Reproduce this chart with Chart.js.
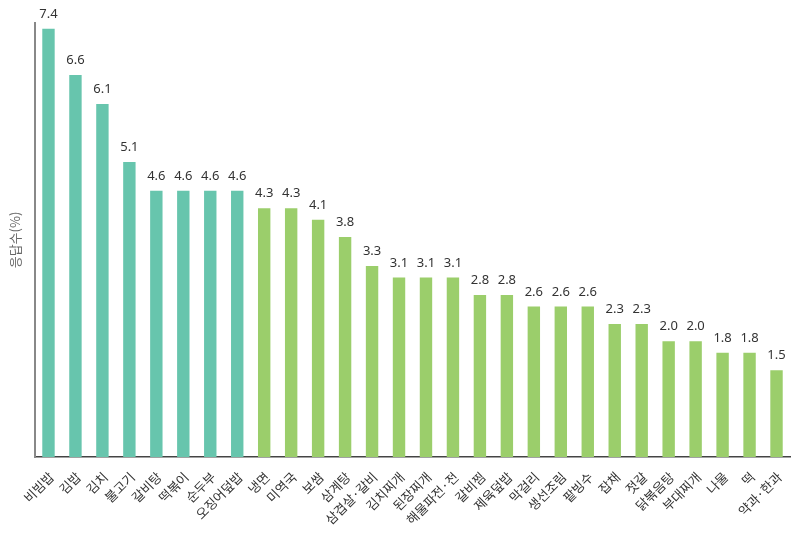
<!DOCTYPE html>
<html><head><meta charset="utf-8">
<script src="https://cdn.jsdelivr.net/npm/chart.js@4"></script>
<style>html,body{margin:0;padding:0;background:#fff}#wrap{width:800px;height:534px}</style>
</head><body><div id="wrap"><canvas id="c" width="800" height="534"></canvas></div>
<script>
const categories = ['비빔밥','김밥','김치','불고기','갈비탕','떡볶이','순두부','오징어덮밥','냉면','미역국','보쌈','삼계탕','삼겹살·갈비','김치찌개','된장찌개','해물파전·전','갈비찜','제육덮밥','막걸리','생선조림','팥빙수','잡채','젓갈','닭볶음탕','부대찌개','나물','떡','약과·한과'];
const values = [7.4,6.6,6.1,5.1,4.6,4.6,4.6,4.6,4.3,4.3,4.1,3.8,3.3,3.1,3.1,3.1,2.8,2.8,2.6,2.6,2.6,2.3,2.3,2.0,2.0,1.8,1.8,1.5];
const topGroupSize = 8;
const yTitle = '응답수(%)';

const TEAL = '#67c5ad', GREEN = '#9bce6b';
const valueLabels = {
  id: 'valueLabels',
  afterDatasetsDraw(chart) {
    const ctx = chart.ctx;
    const meta = chart.getDatasetMeta(0);
    ctx.save();
    ctx.font = '13px "Noto Sans", sans-serif';
    ctx.fillStyle = '#333';
    ctx.textAlign = 'center';
    ctx.textBaseline = 'bottom';
    meta.data.forEach((bar, i) => {
      ctx.fillText(values[i].toFixed(1), bar.x, bar.y - 8);
    });
    ctx.restore();
  }
};

new Chart(document.getElementById('c'), {
  type: 'bar',
  data: {
    labels: categories,
    datasets: [{
      data: values,
      backgroundColor: values.map((v, i) => i < topGroupSize ? TEAL : GREEN),
      barPercentage: 0.46,
      categoryPercentage: 1.0
    }]
  },
  options: {
    responsive: false,
    animation: false,
    layout: { padding: { top: 23, right: 10, left: 0, bottom: 0 } },
    plugins: { legend: { display: false }, tooltip: { enabled: false } },
    scales: {
      x: {
        grid: { display: false, drawTicks: false },
        border: { display: true, color: '#444', width: 1.5 },
        ticks: {
          color: '#333', minRotation: 45, maxRotation: 45, autoSkip: false, padding: 12, labelOffset: 3,
          font: { family: '"Noto Sans CJK KR", sans-serif', size: 13 }
        },
        afterFit(scale) { scale.height = 77; }
      },
      y: {
        min: 0, max: 7.5,
        grid: { display: false, drawTicks: false },
        border: { display: true, color: '#888', width: 2 },
        ticks: { display: false },
        title: { display: true, text: yTitle, color: '#666', padding: { top: 7, bottom: 0 },
          font: { family: '"Noto Sans CJK KR", sans-serif', size: 13 } },
        afterFit(scale) { scale.width = 35; }
      }
    }
  },
  plugins: [valueLabels]
});
</script></body></html>
